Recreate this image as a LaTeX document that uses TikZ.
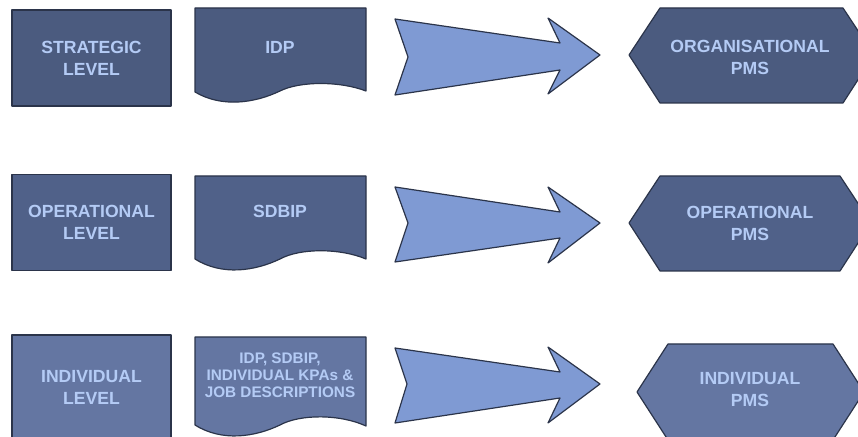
\documentclass[tikz,border=0pt]{standalone}
\usepackage{fontspec}
\setmainfont{Liberation Sans}

\definecolor{rowone}{HTML}{4B5B7F}
\definecolor{rowtwo}{HTML}{506189}
\definecolor{rowthree}{HTML}{6476A2}
\definecolor{arrowblue}{HTML}{7F9AD3}
\definecolor{textblue}{HTML}{B4CBF5}
\definecolor{edgeline}{HTML}{2B344A}

\tikzset{outline/.style = {draw = edgeline, line width = 0.6pt, line join = round},
	lbl/.style = {align = center, text = textblue, inner sep = 0pt, font = \fontsize{8.8}{11}\selectfont\bfseries},
	levelbox/.style = {outline, lbl, minimum width = 79.5pt, minimum height = 48pt}}

\begin{document}
\begin{tikzpicture}[x = 0.5pt, y = -0.5pt]
	
	\useasboundingbox (0, 0) rectangle (858, 437);
	\clip (0, 0) rectangle (858, 437);
	
	\node[levelbox, fill = rowone] (strategic) at (91.5, 58) {STRATEGIC\\LEVEL};
	\node[levelbox, fill = rowtwo] (operational) at (91.5, 222.5) {OPERATIONAL\\LEVEL};
	\node[levelbox, fill = rowthree, minimum height = 52.5pt] (individual) at (91.5, 387.5) {INDIVIDUAL\\LEVEL};
	
	\draw[outline, fill = rowone] (195, 8) -- (366, 8) -- (366, 91) .. controls (340, 81) and (300, 81) .. (280, 91) .. controls (255, 103) and (222, 108) .. (195, 92) -- cycle;
	\draw[outline, fill = rowtwo] (195, 176) -- (366, 176) -- (366, 259) .. controls (340, 248) and (300, 248) .. (280, 259) .. controls (255, 271) and (222, 276) .. (195, 259) -- cycle;
	\draw[outline, fill = rowthree] (195, 337) -- (366, 337) -- (366, 426) .. controls (340, 414) and (300, 414) .. (280, 425) .. controls (255, 437) and (222, 442) .. (195, 425) -- cycle;
	
	\node[lbl] (idp) at (280, 47) {IDP};
	\node[lbl] (sdbip) at (280, 211.5) {SDBIP};
	\node[lbl, font = \fontsize{7.65}{8.5}\selectfont\bfseries] (kpas) at (280, 375) {IDP, SDBIP,\\INDIVIDUAL KPAs \&\\JOB DESCRIPTIONS};
	
	\draw[outline, fill = arrowblue] (395, 19) -- (560, 43) -- (548, 18) -- (600, 55) -- (548, 94) -- (560, 70) -- (395, 95) -- (408, 57) -- cycle;
	\draw[outline, fill = arrowblue] (395, 187) -- (560, 212) -- (548, 187) -- (600, 223) -- (548, 263) -- (560, 238) -- (395, 262) -- (408, 223) -- cycle;
	\draw[outline, fill = arrowblue] (395, 348) -- (560, 372) -- (548, 347) -- (600, 384) -- (548, 423) -- (560, 398) -- (395, 423) -- (407, 384) -- cycle;
	
	\draw[outline, fill = rowone] (629, 55) -- (660, 8) -- (843, 8) -- (874, 55) -- (843, 103) -- (660, 103) -- cycle;
	\draw[outline, fill = rowtwo] (629, 223) -- (660, 176) -- (840, 176) -- (871, 223) -- (840, 271) -- (660, 271) -- cycle;
	\draw[outline, fill = rowthree] (637, 392) -- (668, 344) -- (833, 344) -- (864, 392) -- (833, 440) -- (668, 440) -- cycle;
	
	\node[lbl] (orgpms) at (750, 57) {ORGANISATIONAL\\PMS};
	\node[lbl] (oppms) at (750, 223.5) {OPERATIONAL\\PMS};
	\node[lbl] (indpms) at (750, 390) {INDIVIDUAL\\PMS};
	
\end{tikzpicture}
\end{document}
